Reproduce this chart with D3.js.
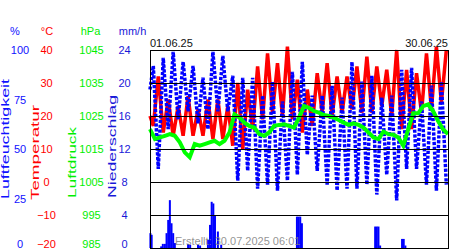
<!DOCTYPE html>
<html>
<head>
<meta charset="utf-8">
<script src="https://cdn.jsdelivr.net/npm/d3@7"></script>
<style>
  body { margin: 0; background: #fff; }
  text { font-family: 'Liberation Sans', Arial, sans-serif; }
</style>
</head>
<body>
<script>
const d3 = window.d3

// daily values, June 2025 (min ~08h, max ~20h on the chart's time axis)
const tempMax = [32, 25, 23, 26, 22, 25, 25, 23, 30, 28, 35, 39, 36, 41, 31, 28, 33, 36, 32, 32, 35, 38, 35, 34, 40, 34, 33, 39, 41, 40]
const tempMin = [17, 15, 14, 14, 14, 14, 13, 13, 11, 10, 16, 19, 21, 20, 19, 15, 17, 21, 20, 21, 22, 21, 21, 23, 20, 16, 16, 21, 22, 24]
const humMax = [92, 96, 99, 94, 92, 86, 99, 97, 87, 86, 86, 77, 84, 74, 89, 94, 77, 77, 82, 76, 94, 84, 87, 76, 77, 90, 91, 74, 82, 84]
const humMin = [40, 60, 65, 69, 63, 60, 69, 69, 34, 39, 30, 32, 29, 34, 37, 47, 39, 32, 29, 30, 30, 32, 27, 37, 24, 40, 40, 32, 29, 32]
const tempStart = 20
const humStart = 80
// pressure every 12 h from 01.06. 00:00
const pressure = [1021, 1018, 1018.5, 1019, 1019.5, 1019, 1017, 1014, 1012.5, 1016.5,
  1016, 1016.5, 1017, 1017.5, 1016.5, 1017.5, 1020, 1025.5, 1024.5, 1023,
  1022, 1021.5, 1019.5, 1019, 1020, 1022, 1022.3, 1022.5, 1022, 1021.5,
  1024.5, 1028, 1027.5, 1026.5, 1026, 1025.3, 1025, 1024.5, 1023.8, 1023,
  1022.3, 1022.8, 1022.3, 1021.5, 1020, 1018.5, 1018, 1020.3, 1019.5, 1019.3,
  1018.5, 1016, 1021, 1025.8, 1025.8, 1028, 1028.5, 1026.5, 1023.5, 1021,
  1019.5]
// rain: hour since 01.06. 00:00 and mm/h
const rainHour = [1, 4, 27, 31, 36, 40, 44, 48, 52, 56, 60, 92, 97, 116, 121, 140, 145, 149, 153, 157, 164, 172, 355, 359, 363, 367, 544, 548, 552, 556, 609, 613, 617]
const rainMm = [1.8, 1.6, 0.2, 0.5, 0.5, 1.8, 3.4, 5.8, 3.0, 1.8, 0.6, 0.5, 0.4, 0.4, 0.3, 1.0, 2.8, 5.6, 5.4, 4.0, 2.0, 0.4, 3.8, 3.8, 3.8, 3.0, 2.6, 2.6, 2.6, 0.3, 1.1, 1.1, 0.3]

const humTicks = [0, 25, 50, 75, 100]
const tempTicks = [-20, -10, 0, 10, 20, 30, 40]
const pressTicks = [985, 995, 1005, 1015, 1025, 1035, 1045]
const rainTicks = [0, 4, 8, 12, 16, 20, 24]

const plotLeft = 150
const plotRight = 448
const plotTop = 50
const plotBottom = 248

const svg = d3.select('body').append('svg')
  .attr('width', 450)
  .attr('height', 250)

const x = d3.scaleLinear().domain([0, 720]).range([plotLeft, plotRight])
const yHum = d3.scaleLinear().domain([0, 100]).range([plotBottom, plotTop])
const yTemp = d3.scaleLinear().domain([-20, 40]).range([plotBottom, plotTop])
const yPress = d3.scaleLinear().domain([985, 1045]).range([plotBottom, plotTop])
const yRain = d3.scaleLinear().domain([0, 24]).range([plotBottom, plotTop])

const tempData = [{h: 0, v: tempStart}]
tempMin.forEach((v, i) => {
  tempData.push({h: i * 24 + 8, v: v})
  tempData.push({h: i * 24 + 20, v: tempMax[i]})
})
const humData = [{h: 0, v: humStart}]
humMax.forEach((v, i) => {
  humData.push({h: i * 24 + 8, v: v})
  humData.push({h: i * 24 + 20, v: humMin[i]})
})
const pressData = pressure.map((v, i) => ({h: i * 12, v: v}))

// temperature
svg.append('path')
  .datum(tempData)
  .attr('fill', 'none')
  .attr('stroke', '#ff0000')
  .attr('stroke-width', 3.5)
  .attr('d', d3.line().x(d => x(d.h)).y(d => yTemp(d.v)))

// humidity: blue blocks
svg.append('path')
  .datum(humData)
  .attr('fill', 'none')
  .attr('stroke', '#0000ff')
  .attr('stroke-width', 3.5)
  .attr('stroke-dasharray', '3.2 1.6')
  .attr('d', d3.line().x(d => x(d.h)).y(d => yHum(d.v)))

// pressure
svg.append('path')
  .datum(pressData)
  .attr('fill', 'none')
  .attr('stroke', '#00ff00')
  .attr('stroke-width', 4)
  .attr('d', d3.line().x(d => x(d.h)).y(d => yPress(d.v)))

// rain bars
svg.append('g').selectAll('rect').data(rainHour).enter().append('rect')
  .attr('x', d => x(d) - 1)
  .attr('y', (d, i) => yRain(rainMm[i]))
  .attr('width', 2)
  .attr('height', (d, i) => plotBottom - yRain(rainMm[i]))
  .attr('fill', '#0000ff')

// grid
svg.append('g').selectAll('line').data(tempTicks).enter().append('line')
  .attr('x1', plotLeft)
  .attr('x2', plotRight)
  .attr('y1', d => Math.round(yTemp(d)) + 0.5)
  .attr('y2', d => Math.round(yTemp(d)) + 0.5)
  .attr('stroke', '#000')
svg.append('g').selectAll('line').data([plotLeft, plotRight]).enter().append('line')
  .attr('x1', d => d + 0.5)
  .attr('x2', d => d + 0.5)
  .attr('y1', plotTop)
  .attr('y2', plotBottom + 1)
  .attr('stroke', '#000')

function tickColumn (scale, ticks, cx, color) {
  const g = svg.append('g')
    .attr('transform', `translate(${cx},0)`)
    .call(d3.axisLeft(scale).tickValues(ticks).tickFormat(d3.format('d')).tickSize(0).tickPadding(0))
  g.select('.domain').remove()
  g.attr('font-family', null).attr('font-size', null).attr('text-anchor', 'middle')
  g.selectAll('text')
    .attr('x', 0)
    .attr('dy', '0.36em')
    .attr('y', (d, i) => i === 0 ? -4 : 0)
    .attr('fill', color)
    .style('font-size', '11px')
}

tickColumn(yHum, humTicks, 20, '#1010ff')
tickColumn(yTemp, tempTicks, 46.5, '#ff0000')
tickColumn(yPress, pressTicks, 91.5, '#00ee00')
tickColumn(yRain, rainTicks, 124.5, '#1818d8')

const heads = [
  {t: '%', x: 15, c: '#1010ff'},
  {t: '°C', x: 47, c: '#ff0000'},
  {t: 'hPa', x: 90.5, c: '#00ee00'},
  {t: 'mm/h', x: 132.5, c: '#1818d8'}
]
svg.append('g').selectAll('text').data(heads).enter().append('text')
  .attr('x', d => d.x)
  .attr('y', 35)
  .attr('text-anchor', 'middle')
  .attr('fill', d => d.c)
  .style('font-size', '11px')
  .text(d => d.t)

const titles = [
  {t: 'Luftfeuchtigkeit', x: 8.5, y: 199, len: 120, c: '#1010ff'},
  {t: 'Temperatur', x: 38.5, y: 200, len: 95, c: '#ff0000'},
  {t: 'Luftdruck', x: 75.5, y: 198, len: 71, c: '#00ee00'},
  {t: 'Niederschlag', x: 115.5, y: 198, len: 103, c: '#1818d8'}
]
svg.append('g').selectAll('text').data(titles).enter().append('text')
  .attr('transform', d => `translate(${d.x},${d.y}) rotate(-90)`)
  .attr('textLength', d => d.len)
  .attr('lengthAdjust', 'spacingAndGlyphs')
  .attr('fill', d => d.c)
  .style('font-size', '10px')
  .text(d => d.t)

svg.append('text')
  .attr('x', plotLeft)
  .attr('y', 47)
  .style('font-size', '11px')
  .attr('fill', '#111')
  .text('01.06.25')
svg.append('text')
  .attr('x', plotRight)
  .attr('y', 47)
  .attr('text-anchor', 'end')
  .style('font-size', '11px')
  .attr('fill', '#111')
  .text('30.06.25')

svg.append('text')
  .attr('x', 175)
  .attr('y', 245)
  .style('font-size', '11px')
  .attr('fill', '#808080')
  .attr('fill-opacity', 0.85)
  .text('Erstellt: 30.07.2025 06:01')
</script>
</body>
</html>
